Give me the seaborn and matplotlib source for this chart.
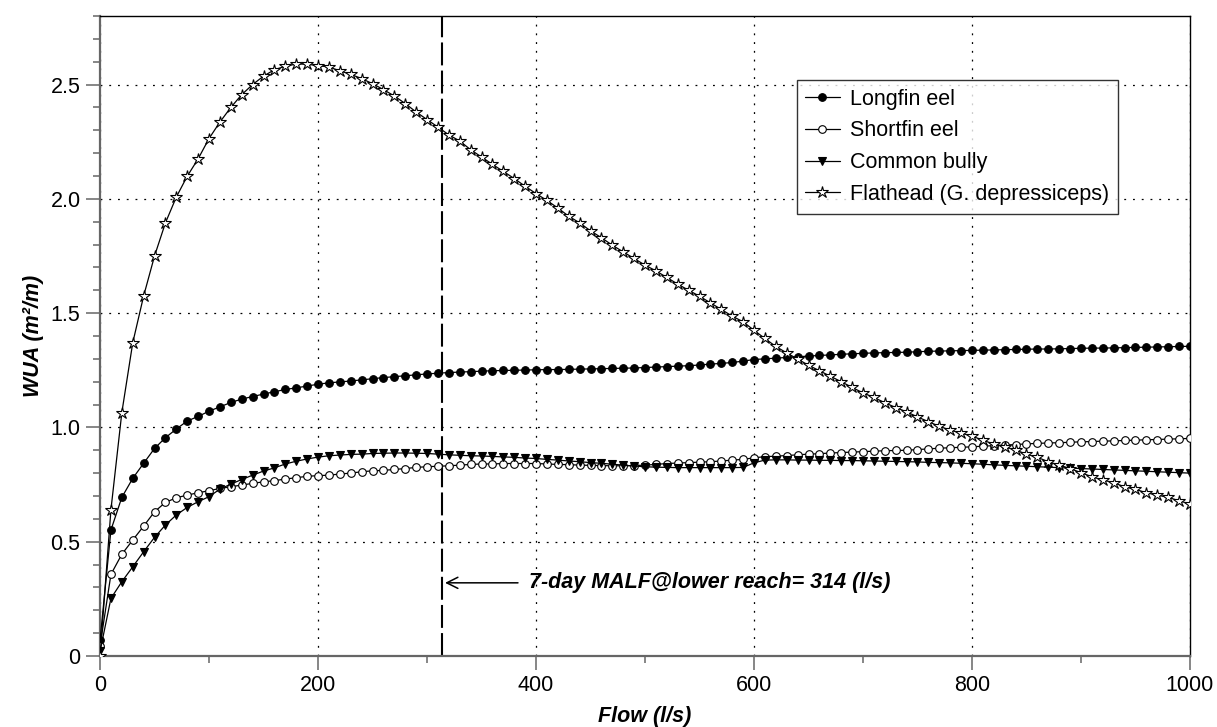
import numpy as np
import matplotlib
matplotlib.use('Agg')
import matplotlib.pyplot as plt
import matplotlib.ticker as mticker
import seaborn as sns

# Flow steps (l/s) and WUA (m2/m)
flow = np.arange(0, 1001, 10)

longfin = [
    0.070, 0.551, 0.694, 0.777, 0.843, 0.908, 0.955, 0.993, 1.028, 1.048,
    1.071, 1.090, 1.109, 1.124, 1.135, 1.146, 1.156, 1.166, 1.173, 1.181,
    1.189, 1.195, 1.199, 1.203, 1.208, 1.213, 1.218, 1.222, 1.226, 1.230,
    1.234, 1.237, 1.240, 1.242, 1.244, 1.246, 1.248, 1.249, 1.250, 1.251,
    1.252, 1.253, 1.253, 1.254, 1.255, 1.256, 1.257, 1.258, 1.259, 1.260,
    1.262, 1.264, 1.266, 1.268, 1.270, 1.273, 1.277, 1.280, 1.284, 1.290,
    1.297, 1.300, 1.303, 1.306, 1.309, 1.312, 1.315, 1.317, 1.320, 1.322,
    1.324, 1.326, 1.327, 1.328, 1.329, 1.331, 1.333, 1.334, 1.335, 1.336,
    1.337, 1.338, 1.339, 1.340, 1.341, 1.342, 1.343, 1.343, 1.344, 1.345,
    1.346, 1.347, 1.347, 1.348, 1.349, 1.350, 1.351, 1.352, 1.353, 1.354,
    1.355,
]

shortfin = [
    0.044, 0.357, 0.445, 0.507, 0.568, 0.631, 0.672, 0.692, 0.704, 0.714,
    0.723, 0.733, 0.740, 0.748, 0.755, 0.762, 0.767, 0.774, 0.780, 0.786,
    0.789, 0.791, 0.796, 0.800, 0.806, 0.810, 0.812, 0.816, 0.820, 0.825,
    0.828, 0.830, 0.832, 0.835, 0.838, 0.840, 0.840, 0.842, 0.842, 0.842,
    0.842, 0.840, 0.838, 0.837, 0.835, 0.834, 0.833, 0.832, 0.832, 0.833,
    0.835, 0.838, 0.842, 0.844, 0.846, 0.848, 0.850, 0.853, 0.857, 0.860,
    0.867, 0.872, 0.874, 0.877, 0.880, 0.883, 0.885, 0.888, 0.890, 0.892,
    0.894, 0.896, 0.898, 0.899, 0.900, 0.903, 0.906, 0.909, 0.911, 0.913,
    0.915, 0.918, 0.920, 0.923, 0.925, 0.928, 0.930, 0.932, 0.933, 0.935,
    0.937, 0.938, 0.940, 0.941, 0.943, 0.944, 0.946, 0.947, 0.949, 0.950,
    0.952,
]

bully = [
    0.020, 0.252, 0.325, 0.390, 0.456, 0.519, 0.573, 0.617, 0.650, 0.675,
    0.697, 0.730, 0.752, 0.772, 0.791, 0.809, 0.823, 0.840, 0.852, 0.862,
    0.870, 0.876, 0.879, 0.882, 0.883, 0.886, 0.887, 0.888, 0.888, 0.887,
    0.886, 0.883, 0.880, 0.878, 0.876, 0.875, 0.873, 0.871, 0.869, 0.866,
    0.864, 0.860, 0.857, 0.853, 0.850, 0.846, 0.843, 0.839, 0.835, 0.831,
    0.828, 0.826, 0.825, 0.824, 0.824, 0.824, 0.824, 0.824, 0.824, 0.825,
    0.845, 0.857, 0.858, 0.858, 0.857, 0.857, 0.856, 0.856, 0.855, 0.855,
    0.854, 0.853, 0.852, 0.851, 0.850, 0.849, 0.847, 0.846, 0.845, 0.843,
    0.841, 0.839, 0.836, 0.834, 0.832, 0.830, 0.828, 0.826, 0.824, 0.822,
    0.820, 0.818, 0.816, 0.814, 0.812, 0.810, 0.808, 0.806, 0.804, 0.802,
    0.800,
]

flathead = [
    0.000, 0.640, 1.065, 1.370, 1.575, 1.750, 1.895, 2.008, 2.099, 2.175,
    2.264, 2.336, 2.400, 2.456, 2.500, 2.537, 2.565, 2.580, 2.590, 2.589,
    2.583, 2.577, 2.560, 2.545, 2.526, 2.504, 2.478, 2.450, 2.417, 2.380,
    2.347, 2.314, 2.280, 2.253, 2.215, 2.183, 2.151, 2.120, 2.089, 2.055,
    2.023, 1.993, 1.960, 1.924, 1.895, 1.860, 1.830, 1.797, 1.768, 1.739,
    1.710, 1.685, 1.656, 1.627, 1.600, 1.574, 1.545, 1.516, 1.487, 1.462,
    1.425, 1.389, 1.354, 1.326, 1.299, 1.272, 1.248, 1.224, 1.200, 1.175,
    1.151, 1.131, 1.108, 1.087, 1.068, 1.046, 1.025, 1.005, 0.988, 0.975,
    0.962, 0.944, 0.927, 0.915, 0.901, 0.883, 0.869, 0.850, 0.835, 0.820,
    0.802, 0.784, 0.770, 0.758, 0.740, 0.729, 0.714, 0.704, 0.694, 0.679,
    0.665,
]

malf = 314
malf_text = '7-day MALF@lower reach= 314 (l/s)'

series = [
    ('Longfin eel', longfin, 'o', 'black', 5.5),
    ('Shortfin eel', shortfin, 'o', 'white', 5.5),
    ('Common bully', bully, 'v', 'black', 5.5),
    ('Flathead (G. depressiceps)', flathead, '*', 'white', 9),
]

sns.set_style('white')
plt.rcParams['font.family'] = ['Liberation Sans', 'DejaVu Sans']
plt.rcParams.update({
    'font.size': 15.5,
    'text.color': 'black',
    'axes.labelcolor': 'black',
})

fig = plt.figure(figsize=(12.17, 7.27), dpi=100)
ax = fig.add_axes([0.0822, 0.0977, 0.8956, 0.8803])

for label, vals, mk, face, ms in series:
    sns.lineplot(x=flow, y=vals, ax=ax, color='black', linewidth=0.9,
                 marker=mk, markersize=ms, markerfacecolor=face,
                 markeredgecolor='black', markeredgewidth=0.8,
                 label=label, zorder=3)

ax.axvline(malf, color='black', linewidth=1.5, linestyle=(0, (11, 2.5)), zorder=2)
ax.annotate('', xy=(malf, 0.32), xytext=(386, 0.32),
            arrowprops=dict(arrowstyle='->', color='black', lw=1.1,
                            mutation_scale=20))
ax.text(394, 0.32, malf_text, fontsize=15.5, fontweight='bold',
        fontstyle='italic', va='center', ha='left')

ax.set_xlim(0, 1000)
ax.set_ylim(0, 2.8)
ax.set_xticks([0, 200, 400, 600, 800, 1000])
ax.set_yticks([0, 0.5, 1.0, 1.5, 2.0, 2.5])
ax.set_yticklabels(['0', '0.5', '1.0', '1.5', '2.0', '2.5'])
ax.xaxis.set_minor_locator(mticker.MultipleLocator(100))
ax.yaxis.set_minor_locator(mticker.MultipleLocator(0.1))
ax.tick_params(which='major', direction='out', length=10, width=1.1,
               color='#666666', labelcolor='black', labelsize=15.5, pad=4,
               bottom=True, left=True, top=False, right=False)
ax.tick_params(which='minor', direction='out', length=5, width=1.1,
               color='#666666', bottom=True, left=True, top=False, right=False)

ax.grid(True, which='major', color='black', linewidth=0.9,
        linestyle=(0, (1.5, 5.5)))
ax.set_axisbelow(True)

for side in ['left', 'bottom']:
    ax.spines[side].set_color('#666666')
    ax.spines[side].set_linewidth(1.6)
for side in ['top', 'right']:
    ax.spines[side].set_color('black')
    ax.spines[side].set_linewidth(1.0)

ax.set_xlabel('Flow (l/s)', fontsize=15.5, fontweight='bold',
              fontstyle='italic', labelpad=7)
ax.set_ylabel('WUA (m²/m)', fontsize=15.5, fontweight='bold',
              fontstyle='italic', labelpad=5)

leg = ax.legend(loc='upper left', bbox_to_anchor=(0.639, 0.9),
                borderaxespad=0, frameon=True, fancybox=False,
                fontsize=15.5, handlelength=1.6, handletextpad=0.5,
                labelspacing=0.5, borderpad=0.4)
leg.get_frame().set_edgecolor('black')
leg.get_frame().set_linewidth(1.0)
for txt in leg.get_texts():
    txt.set_color('black')

fig.savefig('out.png', dpi=100)
plt.close(fig)
